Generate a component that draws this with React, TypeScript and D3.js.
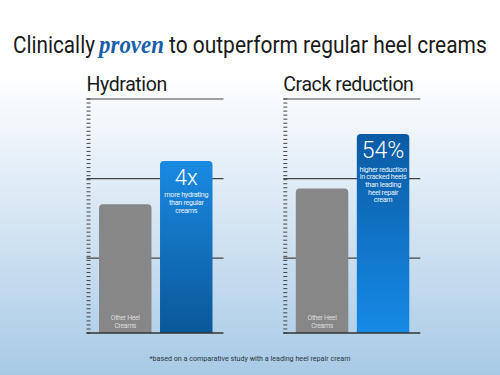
import React, { useEffect, useRef } from 'react';
import * as d3 from 'd3';

const W = 500;
const H = 375;

// chart data (0-100 scale, top gridline = 100)
const panelTitles = ['Hydration', 'Crack reduction'];
const categories = ['Other Heel Creams', 'Ours'];
const hydrationValues = [55, 73.5];
const crackValues = [61.7, 85];
const headlines = ['4x', '54%'];
const hydrationNote = ['more hydrating', 'than regular', 'creams'];
const crackNote = ['higher reduction', 'in cracked heels', 'than leading', 'heel repair', 'cream'];
const gridValues = [32, 66, 100];
const otherLabel = ['Other Heel', 'Creams'];

const panelValues = [hydrationValues, crackValues];
const panelNotes = [hydrationNote, crackNote];
const panelLeft = [86.5, 283.3];
const panelWidth = 137;

const FONT = 'Roboto, "Liberation Sans", Arial, sans-serif';

const y = d3.scaleLinear().domain([0, 100]).range([333, 99]);
const minorTicks = d3.range(0, 100, 100 / 58);

const barPath = (x0: number, w: number, top: number, bottom: number, r: number) => {
  const p = d3.path();
  p.moveTo(x0, bottom);
  p.lineTo(x0, top + r);
  p.arcTo(x0, top, x0 + r, top, r);
  p.lineTo(x0 + w - r, top);
  p.arcTo(x0 + w, top, x0 + w, top + r, r);
  p.lineTo(x0 + w, bottom);
  p.closePath();
  return p.toString();
};

const Panel = ({ i }: { i: number }) => {
  const left = panelLeft[i];
  const x = d3
    .scaleBand<string>()
    .domain(categories)
    .range([left + 12.5, left + 126])
    .paddingInner(0.14);
  const values = panelValues[i];
  const notes = panelNotes[i];
  const bw = x.bandwidth();
  const blueTop = y(values[1]);
  const cx = (x(categories[1]) as number) + bw / 2;
  const gx = (x(categories[0]) as number) + bw / 2;
  const big = i === 0 ? 22 : 23;
  const headY = blueTop + (i === 0 ? 24 : 23.5);
  const noteY0 = headY + (i === 0 ? 12 : 14);
  const noteStep = i === 0 ? 8 : 7.7;

  return (
    <g>
      <text x={left} y={91} fontFamily={FONT} fontSize={19.5} fill="#1a1a1a" letterSpacing={-0.4}>
        {panelTitles[i]}
      </text>
      {minorTicks.map((t) => (
        <line key={t} x1={left} x2={left + 4} y1={y(t)} y2={y(t)} stroke="#444" strokeWidth={1} />
      ))}
      {gridValues.map((g) => (
        <line key={g} x1={left} x2={left + panelWidth} y1={y(g)} y2={y(g)} stroke="#444" strokeWidth={1.2} />
      ))}
      <path
        d={barPath(x(categories[0]) as number, bw, y(values[0]), y(0), 4)}
        fill="#878787"
      />
      <path
        d={barPath(x(categories[1]) as number, bw, blueTop, y(0), 4)}
        fill={`url(#blue${i})`}
      />
      <line x1={left} x2={left + panelWidth} y1={y(0)} y2={y(0)} stroke="#333" strokeWidth={1.4} />
      <text x={cx} y={headY} textAnchor="middle" fontFamily={FONT} fontWeight={300} fontSize={big} fill="#fff">
        {headlines[i]}
      </text>
      {notes.map((n, k) => (
        <text
          key={n}
          x={cx}
          y={noteY0 + k * noteStep}
          textAnchor="middle"
          fontFamily={FONT}
          fontSize={7.2}
          letterSpacing={-0.3}
          fill="#e8f2fb"
        >
          {n}
        </text>
      ))}
      {otherLabel.map((n, k) => (
        <text
          key={n}
          x={gx}
          y={320 + k * 7.7}
          textAnchor="middle"
          fontFamily={FONT}
          fontSize={6.8}
          letterSpacing={-0.3}
          fill="#dcdcdc"
        >
          {n}
        </text>
      ))}
    </g>
  );
};

// headline pieces: text, left x, target width
const titleParts = [
  { t: 'Clinically', x: 13, w: 82, serif: false },
  { t: 'proven', x: 99, w: 65, serif: true },
  { t: 'to outperform regular heel creams', x: 169, w: 318, serif: false },
];

export default function App() {
  const titleRef = useRef<SVGGElement>(null);

  useEffect(() => {
    // squeeze each headline piece horizontally to the reference width
    d3.select(titleRef.current)
      .selectAll<SVGTextElement, unknown>('text')
      .each(function (_, k) {
        const part = titleParts[k];
        const natural = this.getComputedTextLength();
        const sx = natural > 0 ? part.w / natural : 1;
        d3.select(this).attr('transform', `translate(${part.x},52.7) scale(${sx},1)`);
      });
  }, []);

  return (
    <svg width={W} height={H} style={{ position: 'absolute', left: 0, top: 0 }}>
      <defs>
        <linearGradient id="bg" x1="0" y1="0" x2="0" y2="1">
          <stop offset="0" stopColor="#ffffff" />
          <stop offset="0.2" stopColor="#ffffff" />
          <stop offset="1" stopColor="#a8cae6" />
        </linearGradient>
        <linearGradient id="blue0" x1="0" y1="0" x2="0" y2="1">
          <stop offset="0" stopColor="#1a8ae2" />
          <stop offset="1" stopColor="#0a5898" />
        </linearGradient>
        <linearGradient id="blue1" x1="0" y1="0" x2="0" y2="1">
          <stop offset="0" stopColor="#0b5ba3" />
          <stop offset="1" stopColor="#158ae6" />
        </linearGradient>
      </defs>
      <rect width={W} height={H} fill="url(#bg)" />
      <g ref={titleRef} fontFamily={FONT} fontSize={24.5} fill="#1a1a1a">
        {titleParts.map((p) =>
          p.serif ? (
            <text
              key={p.t}
              transform={`translate(${p.x},52.7)`}
              fontFamily='"Liberation Serif", "DejaVu Serif", serif'
              fontStyle="italic"
              fontWeight="bold"
              fill="#1b5fa8"
              fontSize={26}
            >
              {p.t}
            </text>
          ) : (
            <text key={p.t} transform={`translate(${p.x},52.7)`}>
              {p.t}
            </text>
          )
        )}
      </g>
      <Panel i={0} />
      <Panel i={1} />
      <text x={250} y={361} textAnchor="middle" fontFamily={FONT} fontSize={7.6} fill="#2b3540" textLength={201} lengthAdjust="spacingAndGlyphs">
        *based on a comparative study with a leading heel repair cream
      </text>
    </svg>
  );
}
